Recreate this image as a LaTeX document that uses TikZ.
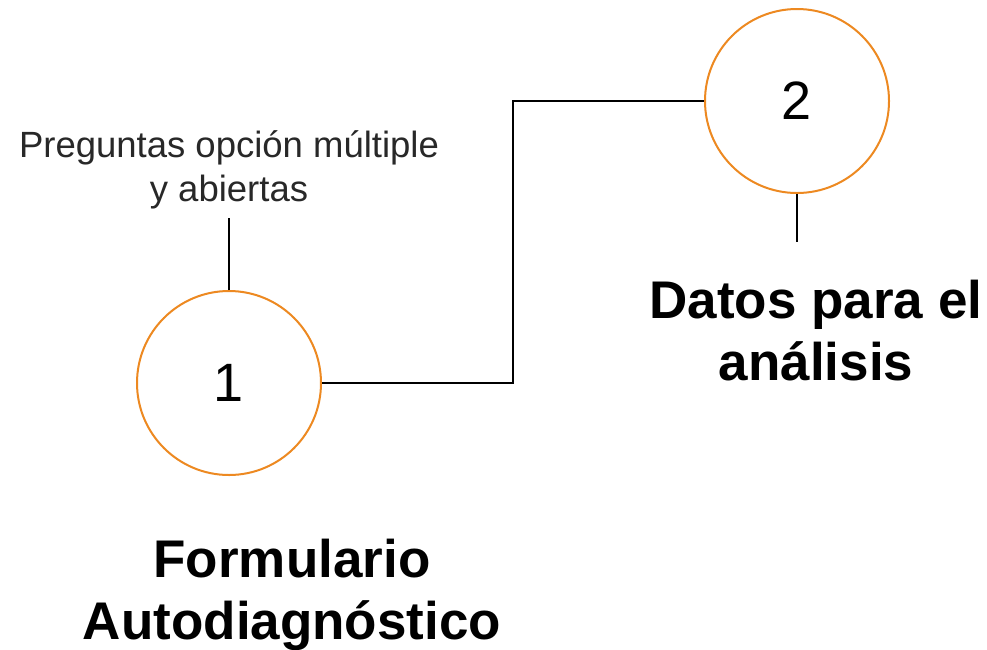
\documentclass[tikz,border=0pt]{standalone}
\usepackage{fontspec}
\setmainfont{Liberation Sans}
\definecolor{circorange}{RGB}{237,137,33}
\definecolor{txtgray}{RGB}{40,40,40}
\tikzset{
  circ/.style={circle, draw=circorange, line width=2pt, minimum size=184pt, inner sep=0pt,
               font=\fontsize{54}{60}\selectfont},
  conn/.style={draw=black, line width=1.5pt},
  smalltxt/.style={align=center, text=txtgray, inner sep=0pt, font=\fontsize{36.5}{44}\selectfont},
  bigtxt/.style={align=center, text=black, inner sep=0pt, font=\fontsize{53}{62}\selectfont\bfseries}
}
\begin{document}
\begin{tikzpicture}[x=1pt,y=-1pt]
\useasboundingbox[fill=white] (0,0) rectangle (987,649);
\node[circ] (c1) at (229,383) {1};
\node[circ] (c2) at (797,101) {2};
\coordinate (bend) at (513,0);
\coordinate (lab1) at (229,218);
\coordinate (lab2) at (797,242);
\draw[conn] (c1.east) -| (bend |- c2.west) -- (c2.west);
\draw[conn] (c1.north) -- (lab1);
\draw[conn] (c2.south) -- (lab2);
\node[smalltxt, anchor=base] (q) at (229,201) {Preguntas opción múltiple\\y abiertas};
\node[bigtxt, anchor=base] (d) at (816,380) {Datos para el\\análisis};
\node[bigtxt, anchor=base] (f) at (292,639) {Formulario\\Autodiagnóstico};
\end{tikzpicture}
\end{document}
